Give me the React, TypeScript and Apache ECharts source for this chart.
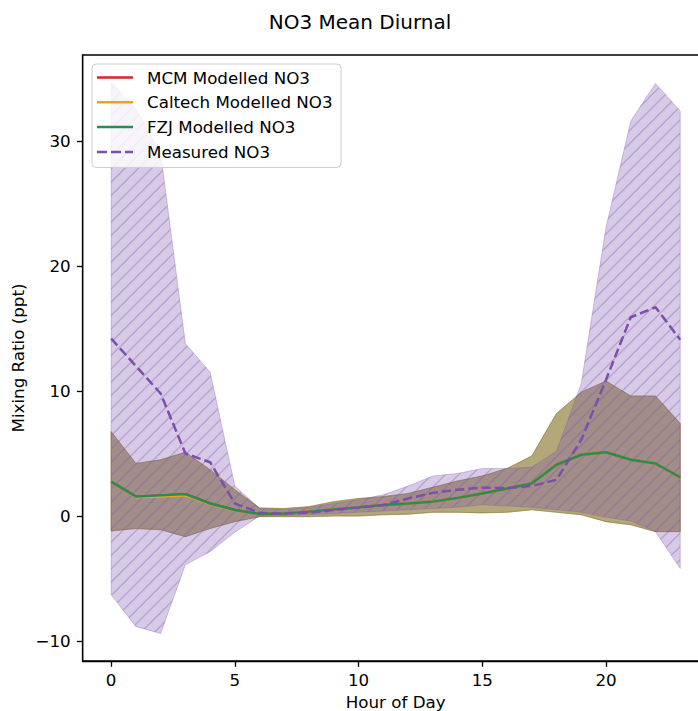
import React, { useEffect, useRef } from "react";
import * as echarts from "echarts";

const hours = [0, 1, 2, 3, 4, 5, 6, 7, 8, 9, 10, 11, 12, 13, 14, 15, 16, 17, 18, 19, 20, 21, 22, 23];
const xTicks = [0, 5, 10, 15, 20];
const yTicks = [-10, 0, 10, 20, 30];

const measuredMean = [14.2, 12.0, 9.8, 5.0, 4.3, 1.0, 0.25, 0.2, 0.27, 0.48, 0.67, 0.88, 1.4, 1.85, 2.1, 2.27, 2.23, 2.4, 2.9, 6.1, 10.9, 15.9, 16.7, 14.1];
const measuredUpper = [34.7, 32.6, 29.0, 13.8, 11.5, 2.4, 0.6, 0.5, 0.7, 1.0, 1.3, 1.7, 2.4, 3.2, 3.4, 3.8, 3.8, 3.9, 5.2, 10.6, 23.1, 31.6, 34.6, 32.4];
const measuredLower = [-6.3, -8.85, -9.4, -3.9, -2.85, -1.3, 0.0, 0.05, 0.1, 0.2, 0.3, 0.4, 0.5, 0.6, 0.7, 0.9, 0.8, 0.7, 0.5, 0.3, -0.1, -0.4, -1.25, -4.2];

const modelUpper = [6.75, 4.2, 4.5, 5.1, 3.7, 2.1, 0.64, 0.6, 0.75, 1.15, 1.4, 1.55, 1.8, 2.3, 2.8, 3.2, 3.8, 4.8, 8.2, 9.9, 10.8, 9.6, 9.6, 7.4];
const modelLower = [-1.2, -1.0, -1.1, -1.65, -1.0, -0.45, -0.05, -0.05, -0.05, 0.0, 0.0, 0.1, 0.15, 0.3, 0.3, 0.25, 0.3, 0.5, 0.3, 0.1, -0.45, -0.7, -1.25, -1.25];

const mcmMean = [2.75, 1.55, 1.65, 1.75, 1.0, 0.48, 0.16, 0.2, 0.35, 0.53, 0.69, 0.88, 1.0, 1.15, 1.45, 1.8, 2.2, 2.6, 4.1, 4.9, 5.1, 4.5, 4.2, 3.1];
const caltechMean = [2.75, 1.5, 1.55, 1.65, 0.95, 0.45, 0.16, 0.2, 0.35, 0.53, 0.69, 0.88, 1.0, 1.15, 1.45, 1.8, 2.2, 2.6, 4.1, 4.9, 5.1, 4.5, 4.2, 3.1];
const fzjMean = [2.75, 1.55, 1.65, 1.75, 1.0, 0.48, 0.16, 0.2, 0.35, 0.53, 0.69, 0.88, 1.0, 1.15, 1.45, 1.8, 2.2, 2.6, 4.1, 4.9, 5.1, 4.5, 4.2, 3.1];

const models = [
  { name: "MCM Modelled NO3", color: "#d62728", rgb: "214,39,40", mean: mcmMean },
  { name: "Caltech Modelled NO3", color: "#e8a31f", rgb: "232,163,31", mean: caltechMean },
  { name: "FZJ Modelled NO3", color: "#2a8c4f", rgb: "42,140,79", mean: fzjMean },
];
const measuredName = "Measured NO3";
const purple = "#7b4fab";
const purpleRgb = "123,79,171";

const FONT = "DejaVu Sans";
const FS = 16.7;

function hatchTile(): string {
  const s = 40;
  const c = document.createElement("canvas");
  c.width = s;
  c.height = s;
  const ctx = c.getContext("2d")!;
  ctx.fillStyle = `rgba(${purpleRgb},0.3)`;
  ctx.fillRect(0, 0, s, s);
  ctx.strokeStyle = `rgba(${purpleRgb},0.32)`;
  ctx.lineWidth = 1.4;
  for (let k = 0; k <= 6; k++) {
    const c0 = (k * s) / 3;
    ctx.beginPath();
    ctx.moveTo(c0 + 3, -3);
    ctx.lineTo(-3, c0 + 3);
    ctx.stroke();
  }
  return c.toDataURL();
}

const pair = (ys: number[]) => hours.map((h, i) => [h, ys[i]]);
const fmt = (v: number) => (v < 0 ? "\u2212" + Math.abs(v) : String(v));

function bandSeries(lower: number[], upper: number[], fill: any, stroke: string, z: number) {
  return {
    type: "custom",
    silent: true,
    clip: true,
    z,
    data: hours.map((h, i) => [h, lower[i], upper[i]]),
    encode: { x: 0, y: [1, 2] },
    renderItem: (params: any, api: any) => {
      if (params.dataIndex !== 0) return null;
      const pts: number[][] = [];
      for (let i = 0; i < hours.length; i++) pts.push(api.coord([hours[i], upper[i]]));
      for (let i = hours.length - 1; i >= 0; i--) pts.push(api.coord([hours[i], lower[i]]));
      return {
        type: "polygon",
        shape: { points: pts },
        style: { fill, stroke, lineWidth: 1 },
      };
    },
  };
}

export default function App() {
  const ref = useRef<HTMLDivElement>(null);
  useEffect(() => {
    if (!ref.current) return;
    const chart = echarts.init(ref.current, undefined, { renderer: "svg" });
    const W = 740;
    const plotRight = 708.7;
    const hatch = hatchTile();

    const series: any[] = [];
    models.forEach((m) => {
      series.push(bandSeries(modelLower, modelUpper, `rgba(${m.rgb},0.3)`, `rgba(${m.rgb},0.3)`, 1));
    });
    series.push(
      bandSeries(
        measuredLower,
        measuredUpper,
        { image: hatch, repeat: "repeat", imageWidth: 40, imageHeight: 40 },
        `rgba(${purpleRgb},0.3)`,
        2
      )
    );
    models.forEach((m) => {
      series.push({
        type: "line", name: m.name, data: pair(m.mean), symbol: "none",
        itemStyle: { color: m.color }, lineStyle: { color: m.color, width: 2.5 }, z: 3,
      });
    });
    series.push({
      type: "line", name: measuredName, data: pair(measuredMean), symbol: "none",
      itemStyle: { color: purple }, lineStyle: { color: purple, width: 2.5, type: [9.25, 4] }, z: 4,
    });

    const option: any = {
      animation: false,
      textStyle: { fontFamily: FONT },
      grid: {
        left: 82.7, top: 55, right: W - plotRight, bottom: 50,
        show: true, borderColor: "#000", borderWidth: 1.3, backgroundColor: "transparent",
      },
      xAxis: {
        type: "value", min: -1.15, max: 24.15,
        axisLine: { show: true, onZero: false, lineStyle: { color: "#000", width: 1.3 } },
        axisTick: { show: true, customValues: xTicks, length: 5.8, lineStyle: { color: "#000", width: 1.3 } },
        axisLabel: { customValues: xTicks, formatter: fmt, color: "#000", fontSize: FS, fontFamily: FONT, margin: 10 },
        splitLine: { show: false },
      },
      yAxis: {
        type: "value", min: -11.6, max: 36.88,
        axisLine: { show: true, onZero: false, lineStyle: { color: "#000", width: 1.3 } },
        axisTick: { show: true, customValues: yTicks, length: 5.8, lineStyle: { color: "#000", width: 1.3 } },
        axisLabel: { customValues: yTicks, formatter: fmt, color: "#000", fontSize: FS, fontFamily: FONT, margin: 12 },
        splitLine: { show: false },
      },
      legend: {
        orient: "vertical", left: 92, top: 64,
        data: [
          { name: models[0].name, icon: "rect" },
          { name: models[1].name, icon: "rect" },
          { name: models[2].name, icon: "rect" },
          { name: measuredName, icon: "path://M0,0h10v2.5h-10z M14,0h10v2.5h-10z M28,0h8v2.5h-8z" },
        ],
        itemWidth: 36, itemHeight: 2.5, itemGap: 6.8,
        itemStyle: { borderWidth: 0 },
        textStyle: { fontSize: FS, fontFamily: FONT, color: "#000", lineHeight: 18, padding: [0, 0, 0, 9] },
        backgroundColor: "rgba(255,255,255,0.8)", borderColor: "#cccccc", borderWidth: 1, borderRadius: 4,
        padding: [4.5, 8.5, 6.5, 5],
        selectedMode: false,
      },
      graphic: [
        { type: "text", x: 360, y: 22, style: { text: "NO3 Mean Diurnal", fontSize: 20, fontFamily: FONT, fill: "#000", align: "center", verticalAlign: "middle" } },
        { type: "text", x: 395.7, y: 702, style: { text: "Hour of Day", fontSize: FS, fontFamily: FONT, fill: "#000", align: "center", verticalAlign: "middle" } },
        { type: "text", x: 18, y: 358, rotation: Math.PI / 2, style: { text: "Mixing Ratio (ppt)", fontSize: FS, fontFamily: FONT, fill: "#000", align: "center", verticalAlign: "middle" } },
      ],
      series,
    };
    chart.setOption(option);
    return () => chart.dispose();
  }, []);
  return (
    <div style={{ position: "fixed", left: 0, top: 0, width: 698, height: 711, overflow: "hidden", background: "#fff" }}>
      <div ref={ref} style={{ width: 740, height: 711 }} />
    </div>
  );
}
